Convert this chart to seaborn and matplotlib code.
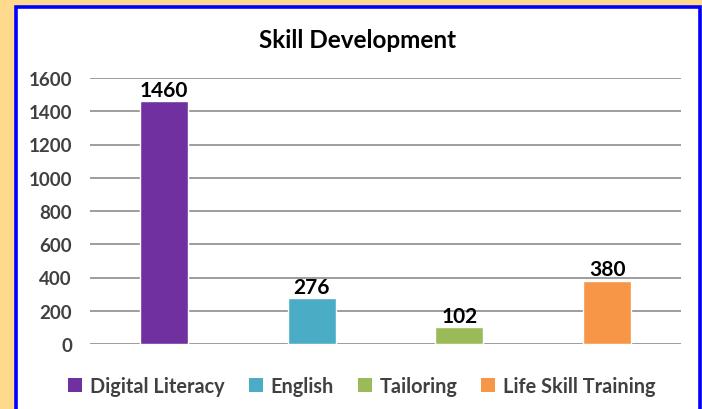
import matplotlib
matplotlib.use("Agg")
import matplotlib.pyplot as plt
import seaborn as sns
import pandas as pd
from matplotlib.patches import Rectangle, Patch

# chart data
categories = ["Digital Literacy", "English", "Tailoring", "Life Skill Training"]
values = [1460, 276, 102, 380]
colors = ["#7030A0", "#4BACC6", "#9BBB59", "#F79646"]
yticks = [0, 200, 400, 600, 800, 1000, 1200, 1400, 1600]

sns.set_theme(style="white")
plt.rcParams["font.family"] = ["Lato", "DejaVu Sans"]

W, H = 702, 410
fig = plt.figure(figsize=(W / 100, H / 100), dpi=100, facecolor="#FFD98C")

# white chart panel with blue frame
fig.patches.append(Rectangle((15.8 / W, -0.05), (699.5 - 15.8) / W, (H - 7.8) / H + 0.05,
                             transform=fig.transFigure, facecolor="white",
                             edgecolor="#0000FF", linewidth=2.6, zorder=-5))

ax = fig.add_axes([90 / W, (H - 345) / H, (681 - 90) / W, (345 - 79) / H])
ax.set_zorder(2)
ax.set_facecolor("none")

df = pd.DataFrame({"category": categories, "value": values})
sns.barplot(data=df, x="category", y="value", hue="category", palette=colors,
            width=0.325, saturation=1, legend=False, ax=ax, zorder=3)

for cont in ax.containers:
    ax.bar_label(cont, padding=1, fontsize=15, fontweight="bold", color="black")

ax.set_ylim(0, 1600)
ax.set_xlim(-0.5, 3.5)
ax.set_yticks(yticks)
ax.set_yticklabels([str(t) for t in yticks], fontsize=13.5, fontweight="bold", color="#404040")
ax.set_xticks([])
ax.set_xlabel("")
ax.set_ylabel("")
ax.tick_params(axis="y", length=0, pad=13)
ax.yaxis.grid(True, color="#8C8C8C", linewidth=1.2)
ax.set_axisbelow(True)
for s in ax.spines.values():
    s.set_visible(False)

fig.text(357.5 / W, 1 - 40 / H, "Skill Development", ha="center", va="center",
         fontsize=17.5, fontweight="bold", color="black")

handles = [Patch(facecolor=c, edgecolor="none") for c in colors]
fig.legend(handles, categories, loc="center", bbox_to_anchor=(362 / W, 1 - 387 / H),
           ncol=4, frameon=False, handlelength=0.7, handleheight=0.7,
           handletextpad=0.4, columnspacing=1.2,
           prop={"size": 14.3, "weight": "bold"}, labelcolor="#404040")

fig.savefig("out.png", dpi=100, facecolor=fig.get_facecolor())
